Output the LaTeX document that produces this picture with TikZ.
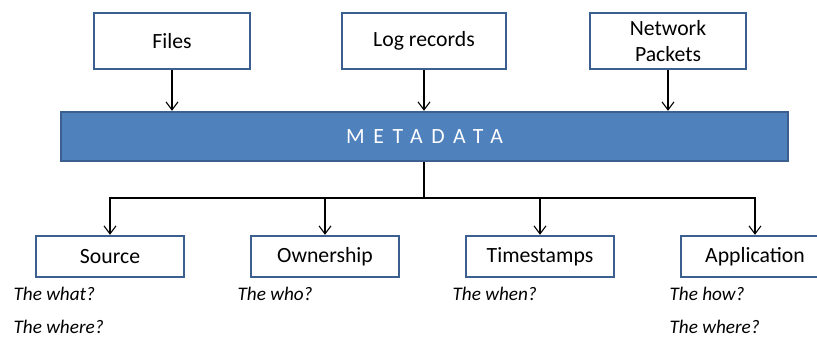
\documentclass[tikz,border=0pt]{standalone}
\usepackage{fontspec}
\setmainfont{Carlito}
\usetikzlibrary{positioning,arrows.meta}

\definecolor{metablue}{HTML}{4F81BD}
\definecolor{metaedge}{HTML}{3B6090}

\begin{document}
\begin{tikzpicture}[x=0.75pt, y=-0.75pt, font=\fontsize{16.3}{20}\selectfont,
                    thick, >={Straight Barb[length=6pt,width=9pt]},
                    data box/.style={draw=metaedge, line width=1.6pt, fill=white, align=center,
                                     minimum width=117pt, minimum height=42pt, inner sep=2pt},
                    kind box/.style={data box, minimum width=111pt, minimum height=31pt},
                    meta bar/.style={draw=metaedge, line width=1.6pt, fill=metablue, text=white,
                                     minimum width=545pt, minimum height=37pt},
                    question/.style={font=\fontsize{14.4}{16}\selectfont\itshape, anchor=west, inner sep=0pt},
                    arr/.style={->, line width=0.8pt, black}]

  \clip (0,0) rectangle (817,338);

  % sources of data
  \node[data box] (files) at (172,41) {Files};
  \node[data box, minimum width=123pt] (logs) at (424,41) {Log records};
  \node[data box] (packets) at (668,41) {Network\\Packets};

  \node[meta bar] (meta) at (424.5,136.5)
    {\addfontfeature{LetterSpace=40}METADATA};

  % kinds of metadata
  \node[kind box] (source) at (110,256.5) {Source};
  \node[kind box] (owner) [right=48.65pt of source] {Ownership};
  \node[kind box] (stamps) [right=48.65pt of owner] {Timestamps};
  \node[kind box] (appl) [right=48.65pt of stamps] {Application};

  \coordinate (hub) at (424,198);

  \draw[arr] (files.south) -- (files.south |- meta.north);
  \draw[arr] (logs.south) -- (logs.south |- meta.north);
  \draw[arr] (packets.south) -- (packets.south |- meta.north);

  \draw[line width=0.8pt] (meta.south -| hub) -- (hub);
  \draw[arr] (hub) -| (source.north);
  \draw[arr] (hub) -| (owner.north);
  \draw[arr] (hub) -| (stamps.north);
  \draw[arr] (hub) -| (appl.north);

  % what each one tells
  \node[question] (q1) at (13,294) {The what?};
  \node[question] (q2) at (13,327) {The where?};
  \node[question] (q3) at (237,294) {The who?};
  \node[question] (q4) at (452,294) {The when?};
  \node[question] (q5) at (669,294) {The how?};
  \node[question] (q6) at (669,327) {The where?};

\end{tikzpicture}
\end{document}
